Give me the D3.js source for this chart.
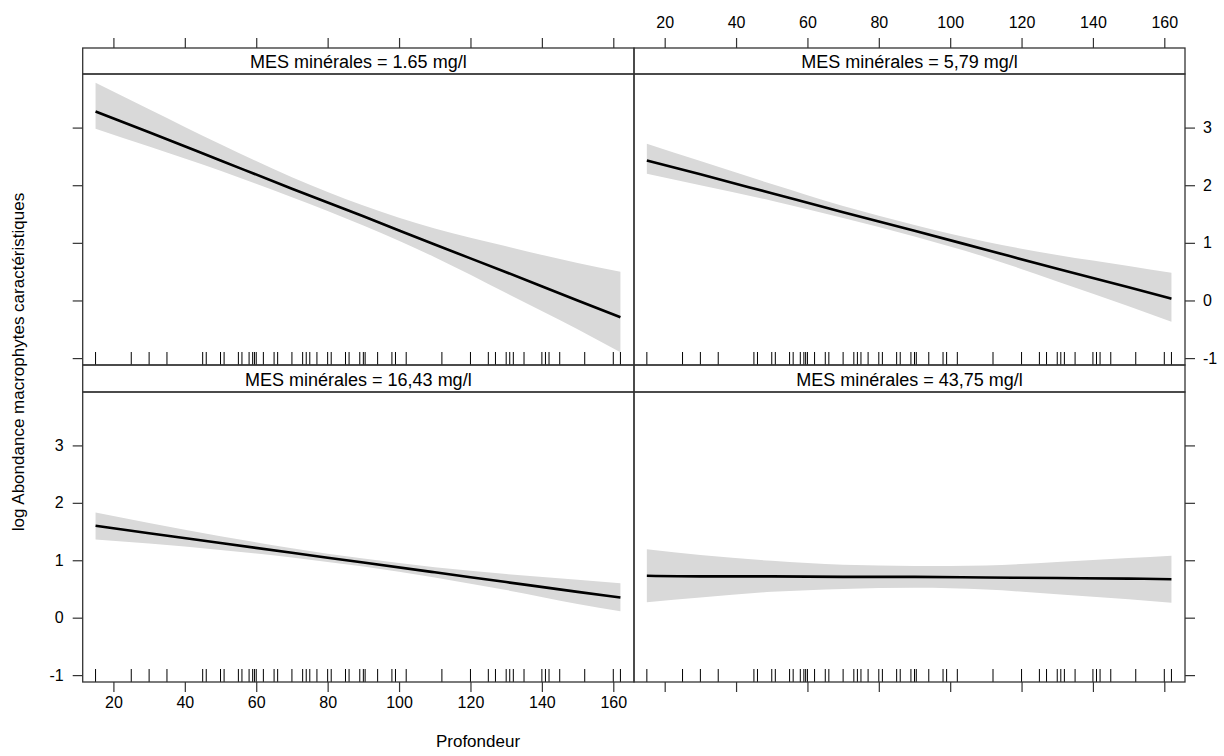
<!DOCTYPE html>
<html><head><meta charset="utf-8">
<script src="https://cdn.jsdelivr.net/npm/d3@7"></script>
<style>body{margin:0;background:#fff} text{font-family:"Liberation Sans",Arial,sans-serif;fill:#000}</style>
</head><body><svg id="c" width="1224" height="756"></svg>
<script>
// ---- data ----
const panelLabels = ["MES minérales = 1.65 mg/l","MES minérales = 5,79 mg/l","MES minérales = 16,43 mg/l","MES minérales = 43,75 mg/l"];
const xTicks = [20,40,60,80,100,120,140,160];
const yTicks = [-1,0,1,2,3];
const rugX = [15,25,30,35,45,46,50,51,55,56,58,59,59.5,60,62,65,66,70,73,74,75,77,80,81,85,86,89,90,90.5,94,98,99,102,112,120,125,127,130,131,132,135,140,141,142,145,152,160,162];
const gridX = [15,30,50,70,90,110,130,150,162];
const fit1   = [3.28,2.92,2.43,1.94,1.46,0.97,0.49,0.00,-0.29];
const upper1 = [3.78,3.32,2.71,2.14,1.65,1.25,0.94,0.65,0.50];
const lower1 = [2.98,2.67,2.25,1.79,1.30,0.75,0.13,-0.50,-0.90];
const fit2   = [2.43,2.19,1.86,1.53,1.21,0.88,0.55,0.23,0.03];
const upper2 = [2.72,2.42,2.02,1.64,1.31,1.02,0.79,0.60,0.48];
const lower2 = [2.20,2.00,1.73,1.43,1.11,0.75,0.33,-0.10,-0.37];
const fit3   = [1.60,1.47,1.30,1.13,0.96,0.79,0.62,0.45,0.35];
const upper3 = [1.83,1.65,1.42,1.21,1.03,0.88,0.76,0.66,0.60];
const lower3 = [1.36,1.29,1.18,1.05,0.89,0.70,0.48,0.24,0.11];
const fit4   = [0.73,0.72,0.72,0.71,0.71,0.70,0.69,0.68,0.67];
const upper4 = [1.19,1.09,0.99,0.92,0.90,0.91,0.97,1.04,1.08];
const lower4 = [0.27,0.35,0.45,0.50,0.52,0.49,0.41,0.32,0.26];
const xLabel = "Profondeur";
const yLabel = "log Abondance macrophytes caractéristiques";

const series = [[fit1,lower1,upper1],[fit2,lower2,upper2],[fit3,lower3,upper3],[fit4,lower4,upper4]];

// ---- layout ----
const svg = d3.select("#c");
const colX = [[82.7,634],[634,1185]];
const rows = [{strip:[48,74],plot:[74,365]},{strip:[365,392],plot:[392,682]}];
const layout = [{c:0,r:0},{c:1,r:0},{c:0,r:1},{c:1,r:1}];
const stroke = "#333";
const fmt = d => String(d);

layout.forEach((p,i)=>{
  const [x0,x1] = colX[p.c];
  const [py0,py1] = rows[p.r].plot;
  const [sy0,sy1] = rows[p.r].strip;
  const x = d3.scaleLinear().domain([11.4,165.8]).range([x0,x1]);
  const y = d3.scaleLinear().domain([-1.12,3.93]).range([py1,py0]);
  const g = svg.append("g");
  const clipId = "clip"+i;
  g.append("clipPath").attr("id",clipId).append("rect").attr("x",x0).attr("y",py0).attr("width",x1-x0).attr("height",py1-py0);
  const [fit,lo,up] = series[i];
  const pts = gridX.map((gx,k)=>({x:gx,f:fit[k],l:lo[k],u:up[k]}));
  const area = d3.area().curve(d3.curveMonotoneX).x(d=>x(d.x)).y0(d=>y(d.l)).y1(d=>y(d.u));
  const line = d3.line().curve(d3.curveMonotoneX).x(d=>x(d.x)).y(d=>y(d.f));
  const inner = g.append("g").attr("clip-path",`url(#${clipId})`);
  inner.append("path").datum(pts).attr("d",area).attr("fill","#d9d9d9");
  inner.append("path").datum(pts).attr("d",line).attr("fill","none").attr("stroke","#000").attr("stroke-width",2.6);
  inner.selectAll("line.rug").data(rugX).join("line").attr("class","rug")
    .attr("x1",d=>x(d)).attr("x2",d=>x(d)).attr("y1",py1).attr("y2",py1-13)
    .attr("stroke","#000").attr("stroke-width",1);
  g.append("rect").attr("x",x0).attr("y",py0).attr("width",x1-x0).attr("height",py1-py0).attr("fill","none").attr("stroke",stroke).attr("stroke-width",1.3);
  g.append("rect").attr("x",x0).attr("y",sy0).attr("width",x1-x0).attr("height",sy1-sy0).attr("fill","none").attr("stroke",stroke).attr("stroke-width",1.3);
  g.append("text").attr("x",(x0+x1)/2).attr("y",sy1-6).attr("text-anchor","middle").attr("font-size",18).text(panelLabels[i]);

  if (p.r===0) {
    const ax = d3.axisTop(x).tickValues(xTicks).tickSize(10).tickPadding(10).tickFormat(p.c===1?fmt:()=> "");
    styleAxis(svg.append("g").attr("transform",`translate(0,${sy0})`).call(ax));
  } else {
    const ax = d3.axisBottom(x).tickValues(xTicks).tickSize(10).tickPadding(5).tickFormat(p.c===0?fmt:()=> "");
    styleAxis(svg.append("g").attr("transform",`translate(0,${py1})`).call(ax));
  }
  if (p.c===0) {
    const ay = d3.axisLeft(y).tickValues(yTicks).tickSize(10).tickPadding(9).tickFormat(p.r===1?fmt:()=> "");
    styleAxis(svg.append("g").attr("transform",`translate(${x0},0)`).call(ay));
  } else {
    const ay = d3.axisRight(y).tickValues(yTicks).tickSize(10).tickPadding(8).tickFormat(p.r===0?fmt:()=> "");
    styleAxis(svg.append("g").attr("transform",`translate(${x1},0)`).call(ay));
  }
});

function styleAxis(ag){
  ag.select(".domain").remove();
  ag.selectAll(".tick line").attr("stroke",stroke).attr("stroke-width",1.2);
  ag.selectAll(".tick text").attr("font-size",16).attr("font-family","Liberation Sans, Arial, sans-serif").attr("fill","#000");
}

svg.append("text").attr("x",478).attr("y",747).attr("text-anchor","middle").attr("font-size",17).text(xLabel);
svg.append("text").attr("transform","translate(24,362) rotate(-90)").attr("text-anchor","middle").attr("font-size",17).text(yLabel);
</script></body></html>
